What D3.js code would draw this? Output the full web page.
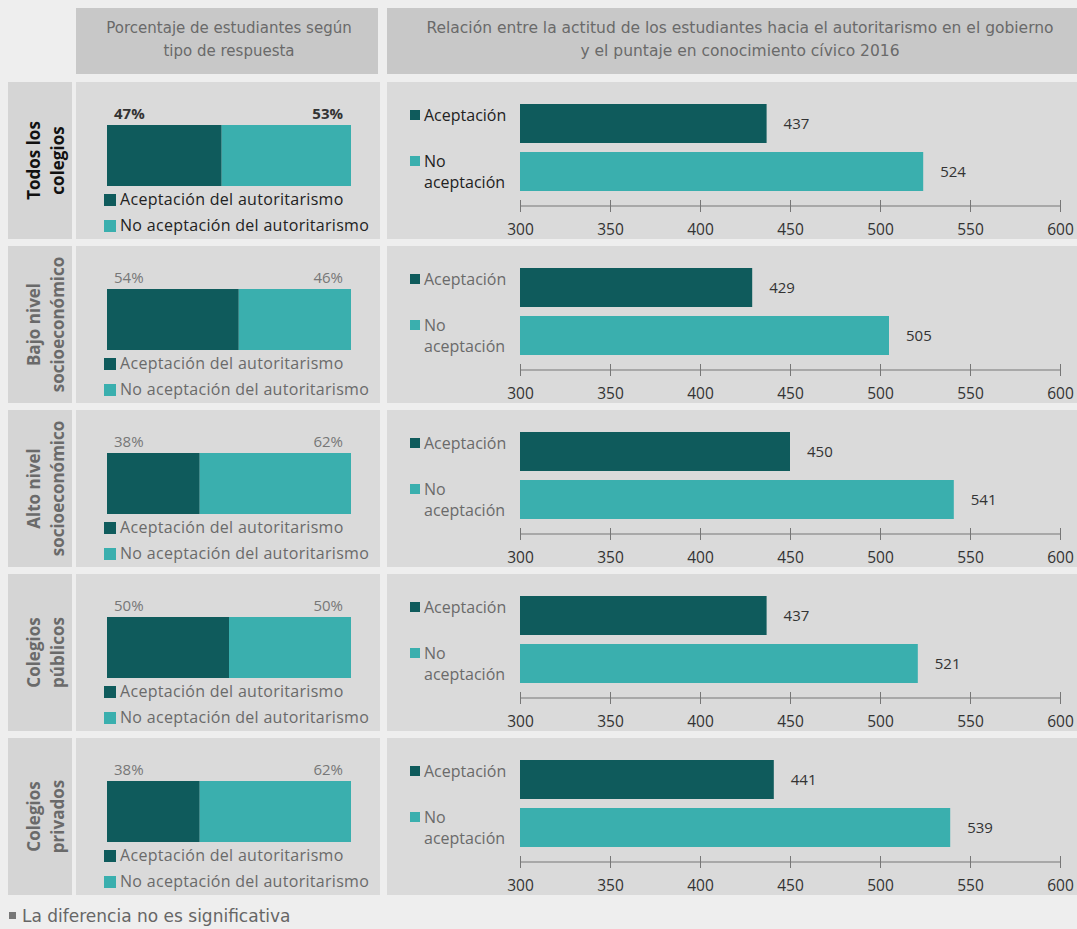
<!DOCTYPE html>
<html>
<head>
<meta charset="utf-8">
<script src="https://cdn.jsdelivr.net/npm/d3@7"></script>
<style>
  html, body { margin: 0; padding: 0; background: #eeeeee; }
  svg { display: block; font-family: "Open Sans", "DejaVu Sans", sans-serif; }
</style>
</head>
<body>
<svg id="chart" width="1077" height="929"></svg>
<script>
// data
const groups = [
    ["Todos los", "colegios"],
    ["Bajo nivel", "socioeconómico"],
    ["Alto nivel", "socioeconómico"],
    ["Colegios", "públicos"],
    ["Colegios", "privados"]
];
const pctAcept = [47, 54, 38, 50, 38];
const pctNoAcept = [53, 46, 62, 50, 62];
const scoreAcept = [437, 429, 450, 437, 441];
const scoreNoAcept = [524, 505, 541, 521, 539];
const scoreTicks = [300, 350, 400, 450, 500, 550, 600];
const leftTitle = ["Porcentaje de estudiantes según", "tipo de respuesta"];
const rightTitle = ["Relación entre la actitud de los estudiantes hacia el autoritarismo en el gobierno", "y el puntaje en conocimiento cívico 2016"];
const legendLeft = ["Aceptación del autoritarismo", "No aceptación del autoritarismo"];
const footnote = "La diferencia no es significativa";

const DARK = "#0f5b5c";
const LIGHT = "#3aafae";
const TITLE_FONT = "'DejaVu Sans', sans-serif";

const svg = d3.select("#chart");

// header cells
svg.append("rect").attr("x", 76).attr("y", 8).attr("width", 302).attr("height", 66).attr("fill", "#c8c8c8");
svg.append("rect").attr("x", 387).attr("y", 8).attr("width", 700).attr("height", 66).attr("fill", "#c8c8c8");

svg.append("text").attr("x", 229).attr("y", 33).attr("text-anchor", "middle")
    .attr("fill", "#6a6a6a").attr("font-size", 15).attr("font-family", TITLE_FONT)
    .selectAll("tspan").data(leftTitle).join("tspan")
    .attr("x", 229).attr("dy", (d, i) => i ? 23 : 0).text(d => d);

svg.append("text").attr("x", 740).attr("y", 33).attr("text-anchor", "middle")
    .attr("fill", "#6a6a6a").attr("font-size", 15.5).attr("font-family", TITLE_FONT)
    .selectAll("tspan").data(rightTitle).join("tspan")
    .attr("x", 740).attr("dy", (d, i) => i ? 23 : 0).text(d => d);

const rowTop = d3.scaleLinear().domain([0, 1]).range([82, 246]);
const rowH = 157;
const pctX = d3.scaleLinear().domain([0, 100]).range([107, 351]);
const x = d3.scaleLinear().domain([300, 600]).range([520, 1060]);

groups.forEach((g, i) => {
    const top = rowTop(i);
    const first = i === 0;
    const txt = first ? "#222" : "#6a6a6a";
    const row = svg.append("g").attr("transform", `translate(0,${top})`);

    row.append("rect").attr("x", 8).attr("y", 0).attr("width", 64).attr("height", rowH).attr("fill", "#d5d5d5");
    row.append("rect").attr("x", 76).attr("y", 0).attr("width", 304).attr("height", rowH).attr("fill", "#dadada");
    row.append("rect").attr("x", 387).attr("y", 0).attr("width", 700).attr("height", rowH).attr("fill", "#dadada");

    // row label, rotated
    row.append("text")
        .attr("transform", `translate(43,${rowH / 2}) rotate(-90)`)
        .attr("text-anchor", "middle").attr("font-size", 17).attr("font-weight", "bold")
        .attr("fill", first ? "#111" : "#6a6a6a")
        .selectAll("tspan").data(g).join("tspan")
        .attr("x", 0).attr("dy", (d, j) => j ? 24 : -3).text(d => d);

    // stacked percentage bar
    row.append("rect").attr("x", pctX(0)).attr("y", 43).attr("width", pctX(pctAcept[i]) - pctX(0))
        .attr("height", 61).attr("fill", DARK);
    row.append("rect").attr("x", pctX(pctAcept[i])).attr("y", 43)
        .attr("width", pctX(pctAcept[i] + pctNoAcept[i]) - pctX(pctAcept[i]))
        .attr("height", 61).attr("fill", LIGHT);
    row.append("text").attr("x", pctX(0) + 7).attr("y", 37).attr("font-size", 15)
        .attr("font-weight", first ? "bold" : "normal").attr("fill", first ? "#333" : "#777")
        .text(pctAcept[i] + "%");
    row.append("text").attr("x", pctX(100) - 8).attr("y", 37).attr("text-anchor", "end").attr("font-size", 15)
        .attr("font-weight", first ? "bold" : "normal").attr("fill", first ? "#333" : "#777")
        .text(pctNoAcept[i] + "%");

    legendLeft.forEach((l, j) => {
        row.append("rect").attr("x", 104).attr("y", 112 + j * 26).attr("width", 12).attr("height", 12)
            .attr("fill", j ? LIGHT : DARK);
        row.append("text").attr("x", 120).attr("y", 123 + j * 26).attr("font-size", 16)
            .attr("letter-spacing", 0.3).attr("fill", txt).text(l);
    });

    // score bars
    const scores = [scoreAcept[i], scoreNoAcept[i]];
    const barY = [22, 70];
    scores.forEach((s, j) => {
        row.append("rect").attr("x", x(300)).attr("y", barY[j]).attr("width", x(s) - x(300))
            .attr("height", 39).attr("fill", j ? LIGHT : DARK);
        row.append("text").attr("x", x(s) + 17).attr("y", barY[j] + 25).attr("font-size", 15)
            .attr("fill", "#333").text(s);
    });

    row.append("rect").attr("x", 410).attr("y", 28).attr("width", 10).attr("height", 10).attr("fill", DARK);
    row.append("text").attr("x", 424).attr("y", 39).attr("font-size", 16).attr("fill", txt).text("Aceptación");
    row.append("rect").attr("x", 410).attr("y", 74).attr("width", 10).attr("height", 10).attr("fill", LIGHT);
    row.append("text").attr("x", 424).attr("y", 85).attr("font-size", 16).attr("fill", txt).text("No");
    row.append("text").attr("x", 424).attr("y", 106).attr("font-size", 16).attr("fill", txt).text("aceptación");

    const axis = row.append("g").attr("transform", "translate(0,124)")
        .call(d3.axisBottom(x).tickValues(scoreTicks).tickSize(6).tickPadding(12));
    axis.select(".domain").attr("stroke", "#777").attr("stroke-width", 1.2).attr("d", `M${x(300)},0H${x(600)}`);
    axis.selectAll(".tick line").attr("stroke", "#777").attr("y1", -6).attr("y2", 6);
    axis.selectAll(".tick text").attr("font-size", 15.5).attr("fill", "#333")
        .attr("font-family", "'Open Sans', 'DejaVu Sans', sans-serif");
});

// footnote
svg.append("rect").attr("x", 9).attr("y", 912).attr("width", 7).attr("height", 7).attr("fill", "#777");
svg.append("text").attr("x", 22).attr("y", 922).attr("font-size", 17).attr("font-family", TITLE_FONT)
    .attr("fill", "#666").text(footnote);
</script>
</body>
</html>
